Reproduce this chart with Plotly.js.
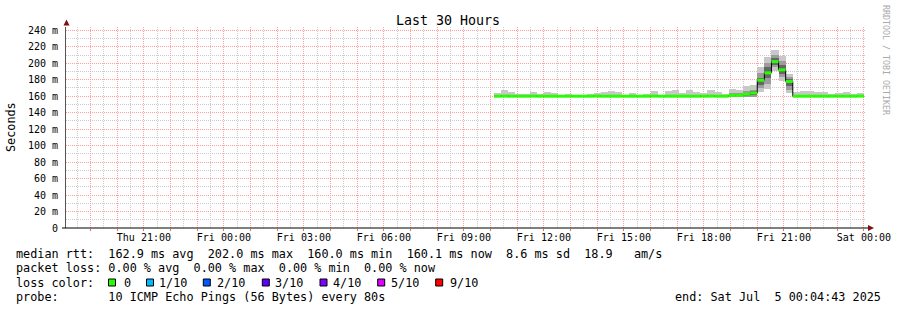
<!DOCTYPE html>
<html>
<head>
<meta charset="utf-8">
<script src="https://cdn.plot.ly/plotly-3.0.1.min.js"></script>
<style>
html,body{margin:0;padding:0;background:#fff;}
#chart{width:897px;height:310px;}
</style>
</head>
<body>
<div id="chart"></div>
<script>
// ---- data (ms), 52 bins of 16 minutes starting Fri Jul 4 10:08 ----
const binStartISO = '2025-07-04T10:08:00Z';
const binMinutes = 16;
const median = [160.0,160.1,160.0,160.0,160.0,160.1,160.0,160.0,160.0,160.0,
                160.0,160.0,160.0,160.0,160.1,160.0,160.0,160.0,160.0,160.0,
                160.0,160.0,160.1,160.0,160.0,160.0,160.0,160.0,160.0,160.0,
                160.1,160.0,160.0,161.0,161.0,162.4,164.0,179.4,188.3,202.0,
                192.0,177.8,160.0,160.0,160.0,160.0,160.0,160.0,160.0,160.0,
                160.0,160.1];
const pingMax = [164.0,167.0,164.8,162.4,162.4,164.8,162.4,164.8,164.0,161.5,
                 162.4,161.0,161.0,162.4,163.6,164.8,166.0,164.8,162.0,164.0,
                 162.0,162.4,166.0,162.0,166.0,167.0,164.0,167.0,164.8,164.0,
                 168.0,164.8,162.4,169.0,168.0,172.5,173.7,195.5,207.7,215.8,
                 208.5,187.5,164.8,166.0,166.0,164.8,164.8,162.4,163.6,164.8,
                 162.4,163.6];
const pingMin = [159.8,159.8,159.8,159.8,159.8,159.8,159.8,159.8,159.8,159.8,
                 159.8,159.8,159.8,159.8,159.8,159.8,159.8,159.8,159.8,159.8,
                 159.8,159.8,159.8,159.8,159.8,159.8,159.8,159.8,159.8,159.8,
                 159.8,159.8,159.8,158.5,158.5,158.5,158.8,165.6,168.5,190.7,
                 178.6,164.4,159.8,159.8,159.8,159.8,159.8,159.8,159.8,159.8,
                 159.8,159.8];
const midLo = [159.9,159.9,159.9,159.9,159.9,159.9,159.9,159.9,159.9,159.9,
               159.9,159.9,159.9,159.9,159.9,159.9,159.9,159.9,159.9,159.9,
               159.9,159.9,159.9,159.9,159.9,159.9,159.9,159.9,159.9,159.9,
               159.9,159.9,159.9,159.0,159.0,159.0,159.5,170.5,175.0,195.0,
               183.0,168.0,159.9,159.9,159.9,159.9,159.9,159.9,159.9,159.9,
               159.9,159.9];
const midHi = [161.0,161.2,161.0,160.8,160.8,161.0,160.8,161.0,161.0,160.8,
               160.8,160.6,160.6,160.8,161.0,161.0,161.2,161.0,160.8,161.0,
               160.8,160.8,161.2,160.8,161.2,161.2,161.0,161.2,161.0,161.0,
               161.4,161.0,160.8,164.0,164.0,166.0,168.0,188.7,200.0,210.0,
               203.0,183.0,161.0,161.2,161.2,161.0,161.0,160.8,161.0,161.0,
               160.8,161.0];
const innerLo = [160.0,160.0,160.0,160.0,160.0,160.0,160.0,160.0,160.0,160.0,
                 160.0,160.0,160.0,160.0,160.0,160.0,160.0,160.0,160.0,160.0,
                 160.0,160.0,160.0,160.0,160.0,160.0,160.0,160.0,160.0,160.0,
                 160.0,160.0,160.0,160.0,160.0,160.0,161.0,174.0,182.0,198.0,
                 187.0,172.0,160.0,160.0,160.0,160.0,160.0,160.0,160.0,160.0,
                 160.0,160.0];
const innerHi = [160.5,160.5,160.5,160.4,160.4,160.5,160.4,160.5,160.5,160.4,
                 160.4,160.3,160.3,160.4,160.5,160.5,160.6,160.5,160.4,160.5,
                 160.4,160.4,160.6,160.4,160.6,160.6,160.5,160.6,160.5,160.5,
                 160.7,160.5,160.4,162.0,162.0,164.0,166.0,182.6,195.0,206.0,
                 198.0,181.0,160.5,160.6,160.6,160.5,160.5,160.4,160.5,160.5,
                 160.4,160.5];

const xTickLabels = ['Thu 21:00','Fri 00:00','Fri 03:00','Fri 06:00','Fri 09:00',
                     'Fri 12:00','Fri 15:00','Fri 18:00','Fri 21:00','Sat 00:00'];
const yTickValues = [0,20,40,60,80,100,120,140,160,180,200,220,240];
const yTickLabels = ['0','20 m','40 m','60 m','80 m','100 m','120 m','140 m',
                     '160 m','180 m','200 m','220 m','240 m'];

const legendLines = [
  'median rtt:  162.9 ms avg  202.0 ms max  160.0 ms min  160.1 ms now  8.6 ms sd  18.9   am/s',
  'packet loss: 0.00 % avg  0.00 % max  0.00 % min  0.00 % now',
  'loss color:',
  'probe:       10 ICMP Echo Pings (56 Bytes) every 80s'
];
const lossLabels = ['0','1/10','2/10','3/10','4/10','5/10','9/10'];
const lossColors = ['#26ff00','#00b8ff','#0059ff','#5e00ff','#7e00ff','#dd00ff','#ff0000'];
const endText = 'end: Sat Jul  5 00:04:43 2025';
const titleText = 'Last 30 Hours';

// ---- build ----
const H = 3600e3;
const stepMs = binMinutes * 60e3;
const t0 = Date.parse(binStartISO);
const starts = median.map((_, i) => t0 + i * stepMs);
const centers = starts.map(s => s + stepMs / 2);

function band(lo, hi, color) {
  return {type:'bar', x:centers, base:lo, y:hi.map((h,i)=>h-lo[i]), width:stepMs,
          marker:{color:color, line:{width:0}}, hoverinfo:'skip'};
}
const stepX = starts.concat([starts[starts.length-1] + stepMs]);
const stepY = median.concat([median[median.length-1]]);
const gx = [], gy = [];
starts.forEach((s,i)=>{ gx.push(s, s+stepMs, null); gy.push(median[i], median[i], null); });

const traces = [
  band(pingMin, pingMax, '#c8c8c8'),
  band(midLo, midHi, '#9c9c9c'),
  band(innerLo, innerHi, '#666666'),
  {type:'scatter', mode:'lines', x:stepX, y:stepY, line:{color:'#000', width:1, shape:'hv'}, hoverinfo:'skip'},
  {type:'scatter', mode:'lines', x:gx, y:gy, line:{color:lossColors[0], width:3}, hoverinfo:'skip'}
];

// axes ticks
const xStart = Date.parse('2025-07-03T18:04:43Z');
const xEnd = Date.parse('2025-07-05T00:04:43Z');
const firstLabel = Date.parse('2025-07-03T21:00:00Z');
const hourVals = [], hourText = [], halfVals = [];
for (let t = Date.parse('2025-07-03T19:00:00Z'); t <= xEnd; t += H) {
  hourVals.push(t);
  const k = Math.round((t - firstLabel) / H);
  hourText.push(k >= 0 && k % 3 === 0 ? xTickLabels[k/3] : '');
}
for (let t = Date.parse('2025-07-03T18:30:00Z'); t <= xEnd; t += H) halfVals.push(t);
const yMinor = [];
for (let v = 10; v < 244; v += 20) yMinor.push(v);

// pixel helpers (layout only)
const L = 66, R = 866, T = 27, B = 228;
const px = x => (x - L) / (R - L);
const py = y => (B - y) / (B - T);
const mono = 'DejaVu Sans Mono';
const nb = s => s.replace(/ /g, '\u00a0');
function ann(x, y, text, extra) {
  return Object.assign({xref:'paper', yref:'paper', x:px(x), y:py(y), text:nb(text),
    showarrow:false, xanchor:'left', yanchor:'middle', borderpad:0, borderwidth:0,
    font:{family:mono, size:11.8, color:'#000'}}, extra || {});
}
const rowY = [254.3, 268.3, 282.5, 296.6];
const annotations = [];
legendLines.forEach((s,i)=> annotations.push(ann(16, rowY[i], s)));
annotations.push(ann(881, rowY[3], endText, {xanchor:'right'}));
const sqX = [108.5, 146.5, 203.3, 262.3, 320, 377.7, 435.7];
const lblX = [124, 159.3, 216.7, 275.3, 333.3, 390.7, 449.5];
const shapes = [];
lossLabels.forEach((l,i)=>{
  annotations.push(ann(lblX[i], rowY[2], l));
  shapes.push({type:'rect', xref:'paper', yref:'paper', x0:px(sqX[i]), x1:px(sqX[i]+7),
    y0:py(286), y1:py(279), fillcolor:lossColors[i], line:{color:'#000', width:1}, layer:'above'});
});
annotations.push({xref:'paper', yref:'paper', x:px(11), y:py(127), text:'Seconds', textangle:-90,
  showarrow:false, xanchor:'center', yanchor:'middle', font:{family:mono, size:11.8, color:'#000'}});
annotations.push({xref:'paper', yref:'paper', x:px(886), y:py(60), text:nb('RRDTOOL / TOBI OETIKER'), textangle:90,
  showarrow:false, xanchor:'center', yanchor:'middle', font:{family:mono, size:8.3, color:'#aaaaaa'}});
annotations.push({xref:'paper', yref:'paper', x:px(448), y:py(20), text:nb(titleText),
  showarrow:false, xanchor:'center', yanchor:'middle', font:{family:mono, size:13.3, color:'#000'}});
// axis arrows
shapes.push({type:'path', xref:'paper', yref:'paper', layer:'above',
  path:`M ${px(63.5)} ${py(25.5)} L ${px(69.5)} ${py(25.5)} L ${px(66.5)} ${py(19.5)} Z`,
  fillcolor:'#7f1010', line:{width:0}});
shapes.push({type:'path', xref:'paper', yref:'paper', layer:'above',
  path:`M ${px(868)} ${py(225)} L ${px(868)} ${py(231)} L ${px(874)} ${py(228)} Z`,
  fillcolor:'#7f1010', line:{width:0}});
shapes.push({type:'line', xref:'paper', yref:'paper', layer:'above',
  x0:px(62), x1:px(868), y0:0, y1:0, line:{color:'#000', width:1}});

const gridRed = '#ffa0a0', gridGray = '#cccccc', dots = '1px,1px';
const layout = {
  width:897, height:310,
  margin:{l:L, r:897-R, t:T, b:310-B, pad:0},
  paper_bgcolor:'#fff', plot_bgcolor:'#fff',
  showlegend:false, barmode:'overlay', bargap:0,
  xaxis:{type:'date', range:[xStart, xEnd], tickmode:'array', tickvals:hourVals, ticktext:hourText,
    showgrid:true, gridcolor:gridRed, griddash:dots, gridwidth:1,
    minor:{tickmode:'array', tickvals:halfVals, showgrid:true, gridcolor:gridGray, griddash:dots, gridwidth:1, ticks:''},
    ticks:'outside', ticklen:2, tickcolor:'#ff6060', tickwidth:1, ticklabelstandoff:-2,
    showline:false, zeroline:false, fixedrange:true,
    tickfont:{family:mono, size:10, color:'#000'}},
  yaxis:{range:[0,244], tickmode:'array', tickvals:yTickValues, ticktext:yTickLabels,
    showgrid:true, gridcolor:gridRed, griddash:dots, gridwidth:1,
    minor:{tickmode:'array', tickvals:yMinor, showgrid:true, gridcolor:gridGray, griddash:dots, gridwidth:1, ticks:''},
    ticks:'', ticklabelstandoff:5, showline:true, linecolor:'#555', linewidth:1,
    zeroline:false, fixedrange:true,
    tickfont:{family:mono, size:10, color:'#000'}},
  annotations:annotations, shapes:shapes
};
Plotly.newPlot('chart', traces, layout, {staticPlot:true, displayModeBar:false});
</script>
</body>
</html>
